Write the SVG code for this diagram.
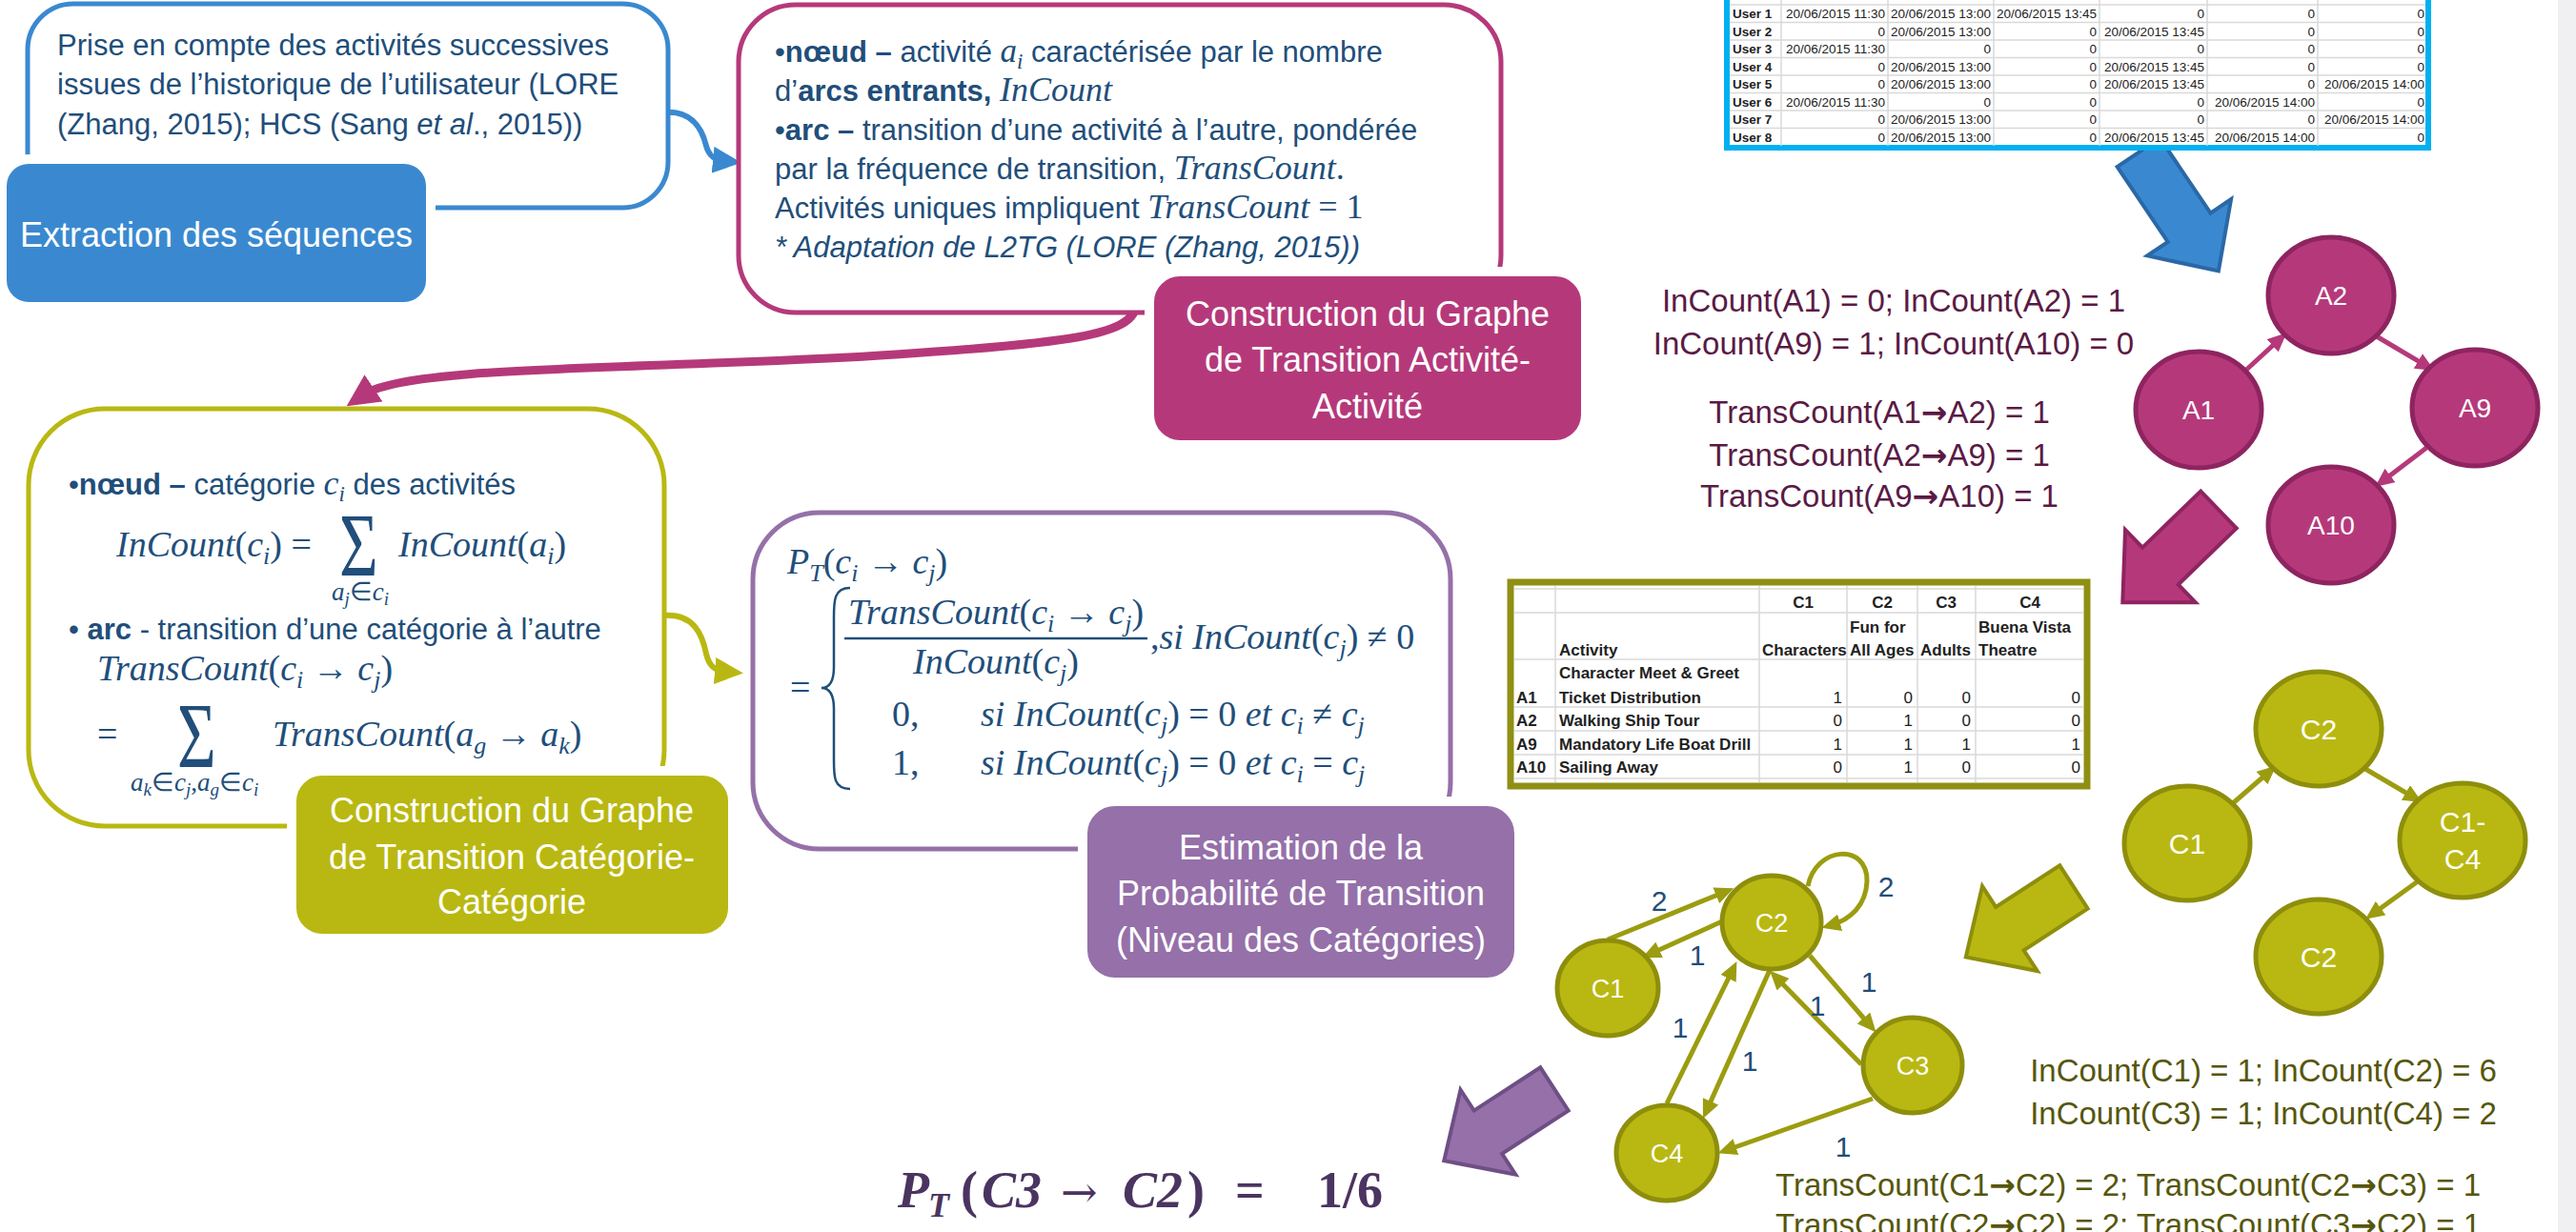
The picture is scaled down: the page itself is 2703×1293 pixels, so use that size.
<svg xmlns="http://www.w3.org/2000/svg" width="2703" height="1293" viewBox="0 0 2703 1293">
<defs>
<style>
.t{font-family:'Liberation Sans',Arial,sans-serif;font-size:31px;fill:#214E7A}
.b{font-weight:bold}
.i{font-style:italic}
.m{font-family:'Liberation Serif','Times New Roman',serif;font-style:italic;fill:#214E7A}
.u{font-style:normal}
.ar{font-family:'DejaVu Sans',sans-serif;font-weight:bold}
.lbl{font-family:'Liberation Sans',Arial,sans-serif;font-size:36px;fill:#fff;text-anchor:middle}
.nd{font-family:'Liberation Sans',Arial,sans-serif;fill:#fff;text-anchor:middle}
.pl{font-family:'Liberation Sans',Arial,sans-serif;font-size:33px;fill:#5A1A45;text-anchor:middle}
.ol{font-family:'Liberation Sans',Arial,sans-serif;font-size:33px;fill:#56560C;text-anchor:middle}
.el{font-family:'Liberation Sans',Arial,sans-serif;font-size:30px;fill:#1F4E79;text-anchor:middle}
.tb{font-family:'Liberation Sans',Arial,sans-serif;font-size:13.5px;fill:#222;text-anchor:end}
.tbb{font-family:'Liberation Sans',Arial,sans-serif;font-size:13.5px;fill:#222;font-weight:bold}
.t2{font-family:'Liberation Sans',Arial,sans-serif;font-size:17px;fill:#222;font-weight:bold}
.t2n{font-family:'Liberation Sans',Arial,sans-serif;font-size:17px;fill:#222;text-anchor:end}
.grid{stroke:#D9D9D9;stroke-width:1.5}
.mnode{fill:#B5397A;stroke:#8E2460;stroke-width:5}
.onode{fill:#B9B812;stroke:#8E8E0C;stroke-width:5}
.medge{stroke:#B5397A;stroke-width:5;fill:none;marker-end:url(#am)}
.oedge{stroke:#9C9C10;stroke-width:5;fill:none;marker-end:url(#ao)}
</style>
<marker id="am" markerUnits="userSpaceOnUse" markerWidth="20" markerHeight="18" viewBox="0 0 20 18" refX="10" refY="9" orient="auto"><path d="M0,0 L20,9 L0,18 Z" fill="#B5397A"/></marker>
<marker id="ao" markerUnits="userSpaceOnUse" markerWidth="20" markerHeight="18" viewBox="0 0 20 18" refX="10" refY="9" orient="auto"><path d="M0,0 L20,9 L0,18 Z" fill="#9C9C10"/></marker>
<marker id="ab" markerUnits="userSpaceOnUse" markerWidth="30" markerHeight="28" viewBox="0 0 30 28" refX="12" refY="14" orient="auto"><path d="M0,0 L30,14 L0,28 Z" fill="#3A89D0"/></marker>
<marker id="ay" markerUnits="userSpaceOnUse" markerWidth="30" markerHeight="28" viewBox="0 0 30 28" refX="12" refY="14" orient="auto"><path d="M0,0 L30,14 L0,28 Z" fill="#B9B812"/></marker>
<marker id="ap" markerUnits="userSpaceOnUse" markerWidth="34" markerHeight="34" viewBox="0 0 34 34" refX="12" refY="17" orient="auto"><path d="M0,0 L34,17 L0,34 Z" fill="#B5397A"/></marker>
</defs>
<rect x="0" y="0" width="2703" height="1293" fill="#fff"/>
<rect x="2684" y="0" width="19" height="1293" fill="#F0F0F3"/>

<g id="connectors">
<path d="M697,118 C728,116 737,137 741,153 C744,164 750,168 760,169" fill="none" stroke="#3A89D0" stroke-width="6" marker-end="url(#ab)"/>
<path d="M1192,322 C1186,352 1120,360 940,372 C700,388 430,382 382,414" fill="none" stroke="#B5397A" stroke-width="9" marker-end="url(#ap)"/>
<path d="M697,646 C728,644 737,666 741,686 C744,699 750,704 762,705" fill="none" stroke="#B9B812" stroke-width="6" marker-end="url(#ay)"/>
<polygon points="0,-27 95,-27 95,-53 150,0 95,53 95,27 0,27" transform="translate(2244,160) rotate(56)" fill="#3A89D0" stroke="#2A68A6" stroke-width="4"/>
<polygon points="0,-27 85,-27 85,-53 140,0 85,53 85,27 0,27" transform="translate(2328,535) rotate(136)" fill="#B5397A" stroke="#8E2460" stroke-width="4"/>
<polygon points="0,-27 80,-27 80,-53 135,0 80,53 80,27 0,27" transform="translate(2176,931) rotate(147)" fill="#B9B812" stroke="#8E8E0C" stroke-width="4"/>
<polygon points="0,-27 83,-27 83,-53 138,0 83,53 83,27 0,27" transform="translate(1631,1143) rotate(147)" fill="#9570A9" stroke="#6E4F85" stroke-width="4"/>
<line x1="2355" y1="390" x2="2392" y2="356" class="medge"/>
<line x1="2492" y1="352" x2="2546" y2="384" class="medge"/>
<line x1="2546" y1="470" x2="2500" y2="505" class="medge"/>
<line x1="2343" y1="843" x2="2381" y2="810" class="oedge"/>
<line x1="2482" y1="807" x2="2533" y2="837" class="oedge"/>
<line x1="2537" y1="925" x2="2490" y2="959" class="oedge"/>
<line x1="1687" y1="986" x2="1810" y2="936" class="oedge"/>
<line x1="1807" y1="967" x2="1732" y2="1001" class="oedge"/>
<path d="M1897,930 C1905,888 1960,884 1959,925 C1958,950 1942,965 1921,971" class="oedge"/>
<line x1="1899" y1="1003" x2="1962" y2="1076" class="oedge"/>
<line x1="1953" y1="1117" x2="1864" y2="1026" class="oedge"/>
<line x1="1749" y1="1158" x2="1818" y2="1018" class="oedge"/>
<line x1="1857" y1="1018" x2="1791" y2="1165" class="oedge"/>
<line x1="1965" y1="1153" x2="1812" y2="1207" class="oedge" stroke-width="7"/>
<text x="1741" y="956" class="el">2</text>
<text x="1781" y="1013" class="el">1</text>
<text x="1979" y="941" class="el">2</text>
<text x="1961" y="1041" class="el">1</text>
<text x="1907" y="1066" class="el">1</text>
<text x="1763" y="1089" class="el">1</text>
<text x="1836" y="1124" class="el">1</text>
<text x="1934" y="1214" class="el">1</text>
</g>

<g id="blue-desc">
<rect x="29" y="4" width="672" height="214" rx="48" fill="#fff" stroke="#3A89D0" stroke-width="5"/>
<text class="t" x="60" y="58">Prise en compte des activités successives</text>
<text class="t" x="60" y="99">issues de l’historique de l’utilisateur (LORE</text>
<text class="t" x="60" y="141">(Zhang, 2015); HCS (Sang <tspan class="i">et al</tspan>., 2015))</text>
</g>
<g id="blue-label">
<rect x="2" y="167" width="450" height="155" rx="28" fill="#3A89D0" stroke="#fff" stroke-width="10"/>
<text class="lbl" x="227" y="259">Extraction des séquences</text>
</g>

<g id="magenta-desc">
<rect x="775" y="5" width="800" height="323" rx="60" fill="#fff" stroke="#B5397A" stroke-width="5"/>
<text class="t" x="813" y="65">•<tspan class="b">nœud –</tspan> activité <tspan class="m" font-size="35">a</tspan><tspan class="m" font-size="23" baseline-shift="-7">i</tspan> caractérisée par le nombre</text>
<text class="t" x="813" y="106">d’<tspan class="b">arcs entrants, </tspan><tspan class="m" font-size="36">InCount</tspan></text>
<text class="t" x="813" y="147">•<tspan class="b">arc –</tspan> transition d’une activité à l’autre, pondérée</text>
<text class="t" x="813" y="188">par la fréquence de transition, <tspan class="m" font-size="36">TransCount</tspan><tspan class="m u" font-size="36">.</tspan></text>
<text class="t" x="813" y="229">Activités uniques impliquent <tspan class="m" font-size="36">TransCount</tspan><tspan class="m u" font-size="36">  =  1</tspan></text>
<text class="t i" x="813" y="270">* Adaptation de L2TG (LORE (Zhang, 2015))</text>
</g>
<g id="magenta-label">
<rect x="1206" y="285" width="458" height="182" rx="32" fill="#B5397A" stroke="#fff" stroke-width="10"/>
<text class="lbl" x="1435" y="342">Construction du Graphe</text>
<text class="lbl" x="1435" y="390">de Transition Activité-</text>
<text class="lbl" x="1435" y="439">Activité</text>
</g>

<g id="olive-desc">
<rect x="30" y="429" width="667" height="438" rx="80" fill="#fff" stroke="#B9B812" stroke-width="5"/>
<text class="t" x="72" y="519">•<tspan class="b">nœud –</tspan> catégorie  <tspan class="m" font-size="36">c</tspan><tspan class="m" font-size="23" baseline-shift="-7">i</tspan> des activités</text>
<text class="m" x="122" y="584" font-size="38">InCount<tspan class="u">(</tspan>c<tspan font-size="26" baseline-shift="-8">i</tspan><tspan class="u">) =</tspan></text>
<text class="m u" font-size="70" transform="translate(356,605) scale(1,1.36)">Σ</text>
<text class="m" x="418" y="584" font-size="38">InCount<tspan class="u">(</tspan>a<tspan font-size="26" baseline-shift="-8">i</tspan><tspan class="u">)</tspan></text>
<text class="m" x="348" y="630" font-size="27">a<tspan font-size="19" baseline-shift="-5">j</tspan><tspan class="u">∈</tspan>c<tspan font-size="19" baseline-shift="-5">i</tspan></text>
<text class="t" x="72" y="671">• <tspan class="b">arc</tspan> - transition d’une catégorie à l’autre</text>
<text class="m" x="102" y="714" font-size="38">TransCount<tspan class="u">(</tspan>c<tspan font-size="26" baseline-shift="-8">i</tspan><tspan class="u"> → </tspan>c<tspan font-size="26" baseline-shift="-8">j</tspan><tspan class="u">)</tspan></text>
<text class="m u" x="102" y="783" font-size="38">=</text>
<text class="m u" font-size="70" transform="translate(186,805) scale(1,1.4)">Σ</text>
<text class="m" x="286" y="783" font-size="38">TransCount<tspan class="u">(</tspan>a<tspan font-size="26" baseline-shift="-8">g</tspan><tspan class="u"> → </tspan>a<tspan font-size="26" baseline-shift="-8">k</tspan><tspan class="u">)</tspan></text>
<text class="m" x="137" y="830" font-size="27">a<tspan font-size="19" baseline-shift="-5">k</tspan><tspan class="u">∈</tspan>c<tspan font-size="19" baseline-shift="-5">j</tspan><tspan class="u">,</tspan>a<tspan font-size="19" baseline-shift="-5">g</tspan><tspan class="u">∈</tspan>c<tspan font-size="19" baseline-shift="-5">i</tspan></text>
</g>
<g id="olive-label">
<rect x="306" y="809" width="463" height="176" rx="32" fill="#B9B812" stroke="#fff" stroke-width="10"/>
<text class="lbl" x="537" y="863">Construction du Graphe</text>
<text class="lbl" x="537" y="912">de Transition Catégorie-</text>
<text class="lbl" x="537" y="959">Catégorie</text>
</g>

<g id="purple-desc">
<rect x="790" y="538" width="732" height="353" rx="70" fill="#fff" stroke="#9570A9" stroke-width="5"/>
<text class="m" x="826" y="602" font-size="38">P<tspan font-size="26" baseline-shift="-8">T</tspan><tspan class="u">(</tspan>c<tspan font-size="26" baseline-shift="-8">i</tspan><tspan class="u"> → </tspan>c<tspan font-size="26" baseline-shift="-8">j</tspan><tspan class="u">)</tspan></text>
<text class="m u" x="829" y="734" font-size="38">=</text>
<path d="M892,617 C874,617 875,632 875,652 L875,700 C875,714 871,722 862,722 C871,722 875,730 875,744 L875,794 C875,814 874,828 892,828" fill="none" stroke="#214E7A" stroke-width="2.5"/>
<text class="m" x="1045" y="655" font-size="38" text-anchor="middle">TransCount<tspan class="u">(</tspan>c<tspan font-size="26" baseline-shift="-8">i</tspan><tspan class="u"> → </tspan>c<tspan font-size="26" baseline-shift="-8">j</tspan><tspan class="u">)</tspan></text>
<line x1="886" y1="670" x2="1204" y2="670" stroke="#214E7A" stroke-width="2.5"/>
<text class="m" x="1045" y="707" font-size="38" text-anchor="middle">InCount<tspan class="u">(</tspan>c<tspan font-size="26" baseline-shift="-8">j</tspan><tspan class="u">)</tspan></text>
<text class="m" x="1207" y="681" font-size="38"><tspan class="u">,</tspan>si InCount<tspan class="u">(</tspan>c<tspan font-size="26" baseline-shift="-8">j</tspan><tspan class="u">) ≠ 0</tspan></text>
<text class="m u" x="936" y="762" font-size="38">0,</text>
<text class="m" x="1029" y="762" font-size="38">si InCount<tspan class="u">(</tspan>c<tspan font-size="26" baseline-shift="-8">j</tspan><tspan class="u">) = 0 </tspan>et c<tspan font-size="26" baseline-shift="-8">i</tspan><tspan class="u"> ≠ </tspan>c<tspan font-size="26" baseline-shift="-8">j</tspan></text>
<text class="m u" x="936" y="813" font-size="38">1,</text>
<text class="m" x="1029" y="813" font-size="38">si InCount<tspan class="u">(</tspan>c<tspan font-size="26" baseline-shift="-8">j</tspan><tspan class="u">) = 0 </tspan>et c<tspan font-size="26" baseline-shift="-8">i</tspan><tspan class="u"> = </tspan>c<tspan font-size="26" baseline-shift="-8">j</tspan></text>
</g>
<g id="purple-label">
<rect x="1136" y="841" width="458" height="190" rx="34" fill="#9570A9" stroke="#fff" stroke-width="10"/>
<text class="lbl" x="1365" y="902">Estimation de la</text>
<text class="lbl" x="1365" y="950">Probabilité de Transition</text>
<text class="lbl" x="1365" y="999">(Niveau des Catégories)</text>
</g>

<g id="user-table">
<rect x="1812" y="-10" width="736" height="165" fill="#fff" stroke="#00B0F0" stroke-width="6"/>
<g class="grid">
<line x1="1869" y1="-10" x2="1869" y2="153"/><line x1="1981" y1="-10" x2="1981" y2="153"/><line x1="2092" y1="-10" x2="2092" y2="153"/><line x1="2203" y1="-10" x2="2203" y2="153"/><line x1="2316" y1="-10" x2="2316" y2="153"/><line x1="2432" y1="-10" x2="2432" y2="153"/>
<line x1="1815" y1="5" x2="2545" y2="5"/><line x1="1815" y1="23.5" x2="2545" y2="23.5"/><line x1="1815" y1="42" x2="2545" y2="42"/><line x1="1815" y1="60.5" x2="2545" y2="60.5"/><line x1="1815" y1="79" x2="2545" y2="79"/><line x1="1815" y1="97.5" x2="2545" y2="97.5"/><line x1="1815" y1="116" x2="2545" y2="116"/><line x1="1815" y1="134.5" x2="2545" y2="134.5"/>
</g>
<text class="tbb" x="1818" y="19">User 1</text><text class="tbb" x="1818" y="37.5">User 2</text><text class="tbb" x="1818" y="56">User 3</text><text class="tbb" x="1818" y="74.5">User 4</text><text class="tbb" x="1818" y="93">User 5</text><text class="tbb" x="1818" y="111.5">User 6</text><text class="tbb" x="1818" y="130">User 7</text><text class="tbb" x="1818" y="148.5">User 8</text>
<text class="tb" x="1978" y="19">20/06/2015 11:30</text><text class="tb" x="2089" y="19">20/06/2015 13:00</text><text class="tb" x="2200" y="19">20/06/2015 13:45</text><text class="tb" x="2313" y="19">0</text><text class="tb" x="2429" y="19">0</text><text class="tb" x="2544" y="19">0</text>
<text class="tb" x="1978" y="37.5">0</text><text class="tb" x="2089" y="37.5">20/06/2015 13:00</text><text class="tb" x="2200" y="37.5">0</text><text class="tb" x="2313" y="37.5">20/06/2015 13:45</text><text class="tb" x="2429" y="37.5">0</text><text class="tb" x="2544" y="37.5">0</text>
<text class="tb" x="1978" y="56">20/06/2015 11:30</text><text class="tb" x="2089" y="56">0</text><text class="tb" x="2200" y="56">0</text><text class="tb" x="2313" y="56">0</text><text class="tb" x="2429" y="56">0</text><text class="tb" x="2544" y="56">0</text>
<text class="tb" x="1978" y="74.5">0</text><text class="tb" x="2089" y="74.5">20/06/2015 13:00</text><text class="tb" x="2200" y="74.5">0</text><text class="tb" x="2313" y="74.5">20/06/2015 13:45</text><text class="tb" x="2429" y="74.5">0</text><text class="tb" x="2544" y="74.5">0</text>
<text class="tb" x="1978" y="93">0</text><text class="tb" x="2089" y="93">20/06/2015 13:00</text><text class="tb" x="2200" y="93">0</text><text class="tb" x="2313" y="93">20/06/2015 13:45</text><text class="tb" x="2429" y="93">0</text><text class="tb" x="2544" y="93">20/06/2015 14:00</text>
<text class="tb" x="1978" y="111.5">20/06/2015 11:30</text><text class="tb" x="2089" y="111.5">0</text><text class="tb" x="2200" y="111.5">0</text><text class="tb" x="2313" y="111.5">0</text><text class="tb" x="2429" y="111.5">20/06/2015 14:00</text><text class="tb" x="2544" y="111.5">0</text>
<text class="tb" x="1978" y="130">0</text><text class="tb" x="2089" y="130">20/06/2015 13:00</text><text class="tb" x="2200" y="130">0</text><text class="tb" x="2313" y="130">0</text><text class="tb" x="2429" y="130">0</text><text class="tb" x="2544" y="130">20/06/2015 14:00</text>
<text class="tb" x="1978" y="148.5">0</text><text class="tb" x="2089" y="148.5">20/06/2015 13:00</text><text class="tb" x="2200" y="148.5">0</text><text class="tb" x="2313" y="148.5">20/06/2015 13:45</text><text class="tb" x="2429" y="148.5">20/06/2015 14:00</text><text class="tb" x="2544" y="148.5">0</text>
</g>

<g id="category-table">
<rect x="1585" y="611" width="605" height="214" fill="#fff" stroke="#8F8F14" stroke-width="7"/>
<g class="grid">
<line x1="1632" y1="615" x2="1632" y2="821"/><line x1="1846" y1="615" x2="1846" y2="821"/><line x1="1938" y1="615" x2="1938" y2="821"/><line x1="2012" y1="615" x2="2012" y2="821"/><line x1="2073" y1="615" x2="2073" y2="821"/>
<line x1="1589" y1="618" x2="2186" y2="618"/><line x1="1589" y1="643" x2="2186" y2="643"/><line x1="1589" y1="692" x2="2186" y2="692"/><line x1="1589" y1="742" x2="2186" y2="742"/><line x1="1589" y1="767" x2="2186" y2="767"/><line x1="1589" y1="792" x2="2186" y2="792"/><line x1="1589" y1="817" x2="2186" y2="817"/>
</g>
<text class="t2" x="1892" y="638" text-anchor="middle">C1</text><text class="t2" x="1975" y="638" text-anchor="middle">C2</text><text class="t2" x="2042" y="638" text-anchor="middle">C3</text><text class="t2" x="2130" y="638" text-anchor="middle">C4</text>
<text class="t2" x="1941" y="664">Fun for</text><text class="t2" x="2076" y="664">Buena Vista</text>
<text class="t2" x="1636" y="688">Activity</text><text class="t2" x="1849" y="688">Characters</text><text class="t2" x="1941" y="688">All Ages</text><text class="t2" x="2015" y="688">Adults</text><text class="t2" x="2076" y="688">Theatre</text>
<text class="t2" x="1636" y="712">Character Meet &amp; Greet</text>
<text class="t2" x="1591" y="738">A1</text><text class="t2" x="1636" y="738">Ticket Distribution</text>
<text class="t2" x="1591" y="762">A2</text><text class="t2" x="1636" y="762">Walking Ship Tour</text>
<text class="t2" x="1591" y="787">A9</text><text class="t2" x="1636" y="787">Mandatory Life Boat Drill</text>
<text class="t2" x="1591" y="811">A10</text><text class="t2" x="1636" y="811">Sailing Away</text>
<text class="t2n" x="1933" y="738">1</text><text class="t2n" x="2007" y="738">0</text><text class="t2n" x="2068" y="738">0</text><text class="t2n" x="2183" y="738">0</text>
<text class="t2n" x="1933" y="762">0</text><text class="t2n" x="2007" y="762">1</text><text class="t2n" x="2068" y="762">0</text><text class="t2n" x="2183" y="762">0</text>
<text class="t2n" x="1933" y="787">1</text><text class="t2n" x="2007" y="787">1</text><text class="t2n" x="2068" y="787">1</text><text class="t2n" x="2183" y="787">1</text>
<text class="t2n" x="1933" y="811">0</text><text class="t2n" x="2007" y="811">1</text><text class="t2n" x="2068" y="811">0</text><text class="t2n" x="2183" y="811">0</text>
</g>

<g id="activity-counts">
<text class="pl" x="1987" y="327">InCount(A1) = 0; InCount(A2) = 1</text>
<text class="pl" x="1987" y="372">InCount(A9) = 1; InCount(A10) = 0</text>
<text class="pl" x="1972" y="444">TransCount(A1<tspan class="ar">→</tspan>A2) = 1</text>
<text class="pl" x="1972" y="489">TransCount(A2<tspan class="ar">→</tspan>A9) = 1</text>
<text class="pl" x="1972" y="532">TransCount(A9<tspan class="ar">→</tspan>A10) = 1</text>
</g>

<g id="node-A2"><ellipse cx="2446" cy="310" rx="66" ry="61" class="mnode"/><text class="nd" x="2446" y="320" font-size="28">A2</text></g>
<g id="node-A1"><ellipse cx="2307" cy="430" rx="66" ry="61" class="mnode"/><text class="nd" x="2307" y="440" font-size="28">A1</text></g>
<g id="node-A9"><ellipse cx="2597" cy="428" rx="66" ry="61" class="mnode"/><text class="nd" x="2597" y="438" font-size="28">A9</text></g>
<g id="node-A10"><ellipse cx="2446" cy="551" rx="66" ry="61" class="mnode"/><text class="nd" x="2446" y="561" font-size="28">A10</text></g>

<g id="node-C2-top"><ellipse cx="2433" cy="765" rx="66" ry="60" class="onode"/><text class="nd" x="2433" y="776" font-size="30">C2</text></g>
<g id="node-C1-right"><ellipse cx="2295" cy="885" rx="66" ry="60" class="onode"/><text class="nd" x="2295" y="896" font-size="30">C1</text></g>
<g id="node-C1C4"><ellipse cx="2584" cy="882" rx="66" ry="60" class="onode"/><text class="nd" x="2584" y="873" font-size="30">C1-</text><text class="nd" x="2584" y="912" font-size="30">C4</text></g>
<g id="node-C2-bottom"><ellipse cx="2433" cy="1004" rx="66" ry="60" class="onode"/><text class="nd" x="2433" y="1015" font-size="30">C2</text></g>

<g id="node-C2"><ellipse cx="1859" cy="968" rx="52" ry="49" class="onode"/><text class="nd" x="1859" y="978" font-size="27">C2</text></g>
<g id="node-C1"><ellipse cx="1687" cy="1037" rx="53" ry="50" class="onode"/><text class="nd" x="1687" y="1047" font-size="27">C1</text></g>
<g id="node-C3"><ellipse cx="2007" cy="1118" rx="52" ry="50" class="onode"/><text class="nd" x="2007" y="1128" font-size="27">C3</text></g>
<g id="node-C4"><ellipse cx="1749" cy="1210" rx="53" ry="50" class="onode"/><text class="nd" x="1749" y="1220" font-size="27">C4</text></g>

<g id="category-counts">
<text class="ol" x="2375" y="1135">InCount(C1) = 1; InCount(C2) = 6</text>
<text class="ol" x="2375" y="1180">InCount(C3) = 1; InCount(C4) = 2</text>
<text class="ol" x="2233" y="1255">TransCount(C1<tspan class="ar">→</tspan>C2) = 2; TransCount(C2<tspan class="ar">→</tspan>C3) = 1</text>
<text class="ol" x="2233" y="1297">TransCount(C2<tspan class="ar">→</tspan>C2) = 2; TransCount(C3<tspan class="ar">→</tspan>C2) = 1</text>
</g>

<g id="result">
<text font-family="'Liberation Serif','Times New Roman',serif" font-weight="bold" font-style="italic" font-size="54" fill="#4B3460" y="1267"><tspan x="942">P</tspan><tspan x="974" font-size="36" baseline-shift="-10">T</tspan><tspan x="1008" font-style="normal">(</tspan><tspan x="1030">C3</tspan><tspan x="1113" font-style="normal" font-weight="normal" font-family="'DejaVu Serif',serif" font-size="46">→</tspan><tspan x="1178">C2</tspan><tspan x="1246" font-style="normal">)</tspan><tspan x="1296" font-style="normal">=</tspan><tspan x="1382" font-style="normal">1/6</tspan></text>
</g>
</svg>
